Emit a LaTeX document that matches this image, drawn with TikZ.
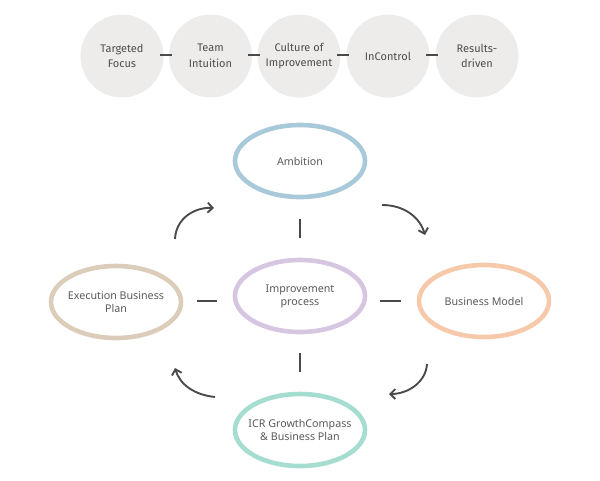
\documentclass[tikz,border=0pt]{standalone}
\usepackage{fontspec}
\setmainfont{Noto Sans}
\newfontfamily\topfont{Fira Sans}
\usetikzlibrary{arrows.meta,shapes.geometric}
\definecolor{circfill}{HTML}{EEECEA}
\definecolor{txt}{HTML}{4E4E4E}
\definecolor{txtb}{HTML}{5A5A5A}
\definecolor{darkln}{HTML}{4A4A4A}
\definecolor{cblue}{HTML}{A8C9D9}
\definecolor{clav}{HTML}{D6C6E1}
\definecolor{cbeige}{HTML}{DCCDBB}
\definecolor{cpeach}{HTML}{F6C9AB}
\definecolor{cmint}{HTML}{A6DDD1}
\tikzset{
  x=1pt, y=-1pt,
  topcirc/.style={circle, fill=circfill, minimum size=83pt, inner sep=0pt, align=center,
    text=txt, font=\topfont\fontsize{11}{15.5}\selectfont},
  ell/.style={ellipse, line width=4.6pt, minimum width=130pt, minimum height=72pt,
    inner xsep=-14pt, inner ysep=0pt,
    align=center, text=txtb, font=\fontsize{10.7}{13}\selectfont},
  link/.style={line width=2pt, draw=darkln},
  cyc/.style={line width=1.9pt, draw=darkln, -{Straight Barb[length=5pt,width=10pt,line width=1.9pt]}}
}
\begin{document}
\begin{tikzpicture}
\useasboundingbox (0,0) rectangle (600,480);
% top row
\node[topcirc] (t1) at (122,56) {Targeted\\Focus};
\node[topcirc] (t2) at (210.5,56) {Team\\Intuition};
\node[topcirc] (t3) at (299,56) {Culture of\\Improvement};
\node[topcirc] (t4) at (388,56) {InControl};
\node[topcirc] (t5) at (477,56) {Results-\\driven};
\coordinate (d1a) at (160,55); \coordinate (d1b) at (172,55);
\coordinate (d2a) at (248,55); \coordinate (d2b) at (260,55);
\coordinate (d3a) at (337,55); \coordinate (d3b) at (349,55);
\coordinate (d4a) at (426,55); \coordinate (d4b) at (438,55);
\draw[link] (d1a) -- (d1b);
\draw[link] (d2a) -- (d2b);
\draw[link] (d3a) -- (d3b);
\draw[link] (d4a) -- (d4b);
% ellipses
\node[ell, draw=cblue] (amb) at (300,161) {Ambition};
\node[ell, draw=clav] (imp) at (300,296) {Improvement\\process};
\node[ell, draw=cbeige] (exe) at (116,302) {Execution Business\\Plan};
\node[ell, draw=cpeach] (bm) at (484,301) {Business Model};
\node[ell, draw=cmint] (icr) at (300,430) {ICR GrowthCompass\\\& Business Plan};
% dashes
\coordinate (v1a) at (300,219); \coordinate (v1b) at (300,238);
\coordinate (v2a) at (300,353); \coordinate (v2b) at (300,372);
\coordinate (h1a) at (197,301); \coordinate (h1b) at (217,301);
\coordinate (h2a) at (380,301); \coordinate (h2b) at (401,301);
\draw[link] (v1a) -- (v1b);
\draw[link] (v2a) -- (v2b);
\draw[link] (h1a) -- (h1b);
\draw[link] (h2a) -- (h2b);
% cycle arrows
\coordinate (a1s) at (175,239); \coordinate (a1e) at (214,208);
\coordinate (a2s) at (382,205); \coordinate (a2e) at (425,235);
\coordinate (a3s) at (427,364); \coordinate (a3e) at (389,394);
\coordinate (a4s) at (215,397); \coordinate (a4e) at (175,368);
\draw[cyc] (a1s) .. controls (176,218) and (195,207) .. (a1e);
\draw[cyc] (a2s) .. controls (405,205) and (420,218) .. (a2e);
\draw[cyc] (a3s) .. controls (426,382) and (408,394) .. (a3e);
\draw[cyc] (a4s) .. controls (195,395) and (180,385) .. (a4e);
\end{tikzpicture}
\end{document}
